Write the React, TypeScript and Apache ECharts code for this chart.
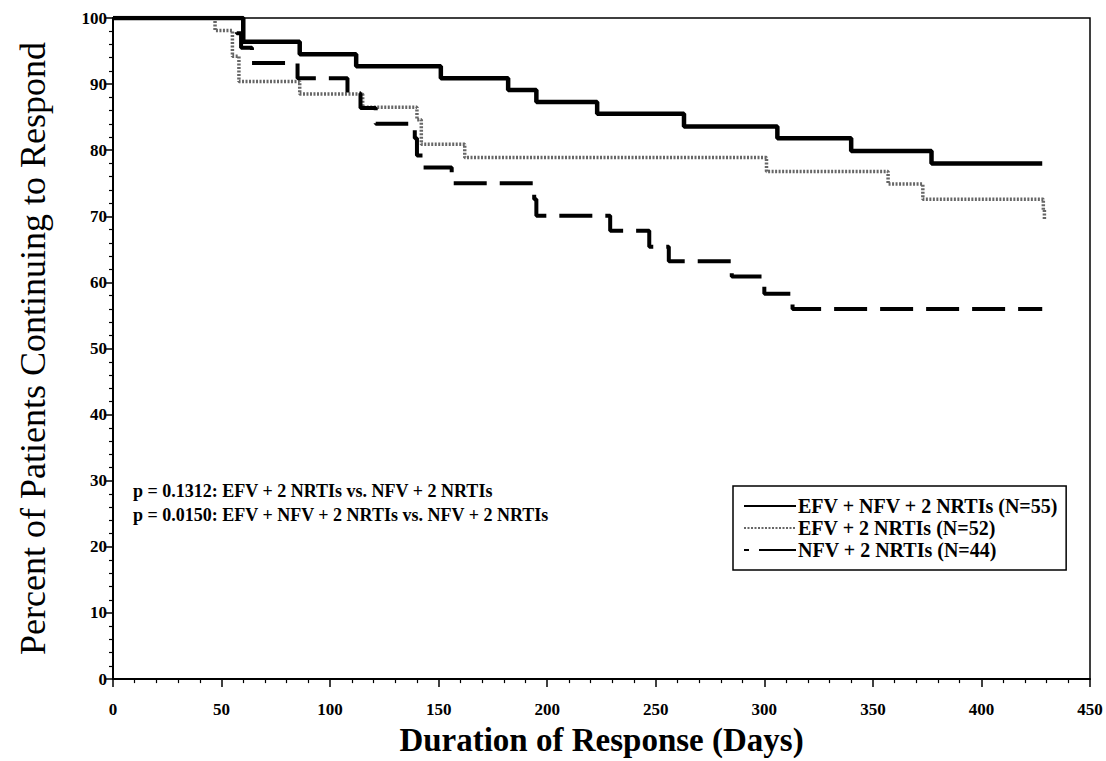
import React, { useEffect, useRef } from "react";
import * as echarts from "echarts";

const xTicks = [0, 50, 100, 150, 200, 250, 300, 350, 400, 450];
const yTicks = [0, 10, 20, 30, 40, 50, 60, 70, 80, 90, 100];

const seriesNames = [
  "EFV + NFV + 2 NRTIs (N=55)",
  "EFV + 2 NRTIs (N=52)",
  "NFV + 2 NRTIs (N=44)",
];

// Kaplan-Meier steps: [day, percent after drop]
const efvNfv: [number, number][] = [
  [0, 100], [60, 96.4], [86, 94.5], [112, 92.7], [151, 90.9], [182, 89.1],
  [195, 87.3], [223, 85.5], [263, 83.6], [306, 81.8], [340, 79.9],
  [377, 78.0], [428, 78.0],
];

const efv: [number, number][] = [
  [0, 100], [47, 98.1], [55, 94.2], [58, 90.4], [86, 88.5], [115, 86.5],
  [140, 84.6], [142, 80.9], [162, 78.9], [301, 76.8], [357, 74.9],
  [373, 72.6], [428, 72.6], [428.5, 71.0], [429, 69.5],
];

const nfv: [number, number][] = [
  [0, 100], [57, 97.7], [59, 95.5], [64, 93.2], [85, 90.9], [108, 88.6],
  [114, 86.4], [121, 84.0], [139, 81.8], [140, 79.2], [143, 77.4],
  [156, 75.0], [194, 72.6], [195, 70.1], [229, 67.8], [247, 65.4],
  [256, 63.2], [285, 60.9], [300, 58.3], [313, 56.0], [428, 56.0],
];

const pTexts = [
  "p = 0.1312: EFV + 2 NRTIs vs. NFV + 2 NRTIs",
  "p = 0.0150: EFV + NFV + 2 NRTIs vs. NFV + 2 NRTIs",
];

const FONT = "Liberation Serif, Times New Roman, serif";

export default function App() {
  const ref = useRef<HTMLDivElement>(null);
  useEffect(() => {
    if (!ref.current) return;
    document.body.style.margin = "0";
    document.body.style.overflow = "hidden";
    const chart = echarts.init(ref.current, null, { renderer: "svg", width: 1106, height: 761 });
    const axisLabelStyle = {
      fontFamily: FONT,
      fontWeight: "bold" as const,
      fontSize: 17,
      color: "#000",
    };
    chart.setOption({
      animation: false,
      backgroundColor: "#fff",
      grid: {
        left: 113,
        top: 18,
        right: 16,
        bottom: 78,
        show: true,
        borderColor: "#000",
        borderWidth: 1.5,
        backgroundColor: "transparent",
      },
      legend: {
        orient: "vertical",
        left: 733,
        top: 486,
        data: [
          { name: seriesNames[0] },
          { name: seriesNames[1] },
          { name: seriesNames[2], lineStyle: { type: [5, 10, 40, 5] } },
        ],
        borderColor: "#000",
        borderWidth: 1.5,
        padding: [10, 8, 10, 10],
        itemGap: 2,
        itemWidth: 52,
        itemHeight: 14,
        itemStyle: { opacity: 0 },
        textStyle: {
          fontFamily: FONT,
          fontWeight: "bold",
          fontSize: 20,
          color: "#000",
          padding: [0, 0, 0, -3],
        },
      },
      xAxis: {
        type: "value",
        min: 0,
        max: 450,
        interval: 50,
        name: "Duration of Response (Days)",
        nameLocation: "middle",
        nameGap: 43,
        nameTextStyle: {
          fontFamily: FONT,
          fontWeight: "bold",
          fontSize: 33,
          color: "#000",
        },
        axisLine: { show: true, onZero: false, lineStyle: { color: "#000", width: 2 } },
        axisTick: { show: true, length: 8, lineStyle: { color: "#000", width: 1.5 } },
        minorTick: { show: true, splitNumber: 5, length: 4, lineStyle: { color: "#000", width: 1.2 } },
        axisLabel: { ...axisLabelStyle, margin: 22, formatter: (v: number) => (xTicks.includes(v) ? String(v) : "") },
        splitLine: { show: false },
      },
      yAxis: {
        type: "value",
        min: 0,
        max: 100,
        interval: 10,
        name: "Percent of Patients Continuing to Respond",
        nameLocation: "middle",
        nameGap: 62,
        nameTextStyle: {
          fontFamily: FONT,
          fontSize: 36,
          color: "#000",
        },
        axisLine: { show: true, onZero: false, lineStyle: { color: "#000", width: 2 } },
        axisTick: { show: true, length: 8, lineStyle: { color: "#000", width: 1.5 } },
        minorTick: { show: true, splitNumber: 5, length: 4, lineStyle: { color: "#000", width: 1.2 } },
        axisLabel: { ...axisLabelStyle, margin: 6, formatter: (v: number) => (yTicks.includes(v) ? String(v) : "") },
        splitLine: { show: false },
      },
      series: [
        {
          name: seriesNames[0],
          type: "line",
          step: "end",
          symbol: "none",
          data: efvNfv,
          color: "#000",
          lineStyle: { color: "#000", width: 4.5, type: "solid" },
          z: 3,
        },
        {
          name: seriesNames[1],
          type: "line",
          step: "end",
          symbol: "none",
          data: efv,
          color: "#666",
          lineStyle: { color: "#666", width: 3.5, type: [2, 1.5] },
          z: 2,
        },
        {
          name: seriesNames[2],
          type: "line",
          step: "end",
          symbol: "none",
          data: nfv,
          color: "#000",
          lineStyle: { color: "#000", width: 4, type: [33, 13] },
          z: 4,
        },
      ],
      graphic: pTexts.map((t, i) => ({
        type: "text",
        left: 133,
        top: 482 + i * 24,
        style: {
          text: t,
          fontFamily: FONT,
          fontWeight: "bold",
          fontSize: 18,
          fill: "#000",
        },
      })),
    });
    return () => chart.dispose();
  }, []);
  return (
    <div
      ref={ref}
      style={{ position: "fixed", left: 0, top: 0, width: 1106, height: 761, background: "#fff" }}
    />
  );
}
